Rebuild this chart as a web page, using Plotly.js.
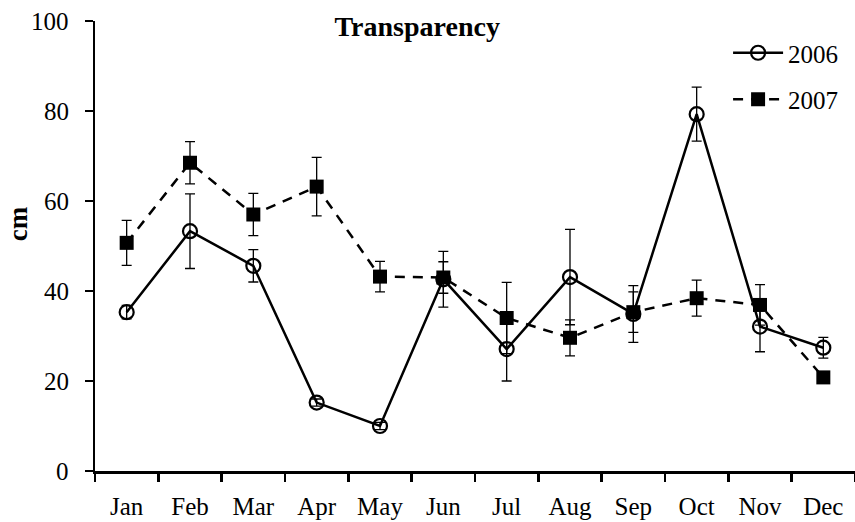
<!DOCTYPE html>
<html>
<head>
<meta charset="utf-8">
<script src="https://cdn.plot.ly/plotly-3.0.1.min.js"></script>
<style>html,body{margin:0;padding:0;background:#fff;}#chart{width:855px;height:522px;}</style>
</head>
<body>
<div id="chart"></div>
<script>
const months = ["Jan","Feb","Mar","Apr","May","Jun","Jul","Aug","Sep","Oct","Nov","Dec"];
const y2006 = [35.3, 53.3, 45.6, 15.2, 10.0, 42.6, 27.1, 43.1, 34.9, 79.3, 32.1, 27.4];
const err2006 = [1.5, 8.3, 3.6, 0.8, 0.8, 6.2, 7.1, 10.6, 6.3, 6.0, 5.6, 2.3];
const y2007 = [50.7, 68.5, 57.0, 63.2, 43.2, 43.0, 34.0, 29.6, 35.3, 38.4, 36.9, 20.8];
const err2007 = [5.0, 4.7, 4.7, 6.5, 3.4, 3.5, 7.9, 4.0, 4.5, 4.0, 4.5, 0];
const yTicks = [0, 20, 40, 60, 80, 100];

const FONT = "Liberation Serif";

const traces = [
  {
    x: months, y: y2006, name: "2006", type: "scatter", mode: "lines+markers",
    legendgroup: "a",
    line: {color: "#000", width: 2.5},
    marker: {symbol: "circle-open", size: 14, color: "#000", line: {width: 2.2, color: "#000"}},
    error_y: {type: "data", array: err2006, visible: true, color: "#000", thickness: 1.3, width: 5}
  },
  {
    x: months, y: y2007, name: "2007", type: "scatter", mode: "lines+markers",
    legendgroup: "b",
    line: {color: "#000", width: 2.5, dash: "10px,8px"},
    marker: {symbol: "square", size: 14, color: "#000"},
    error_y: {type: "data", array: err2007, visible: true, color: "#000", thickness: 1.3, width: 5}
  }
];

// y tick labels placed as annotations on the y scale (right edge 24px left of the axis)
const yLabelAnnotations = yTicks.map(v => ({
  text: String(v), xref: "paper", yref: "y",
  x: -24 / 760, y: v, xanchor: "right", yanchor: "middle",
  showarrow: false, font: {family: FONT, size: 25, color: "#000"}
}));

const layout = {
  width: 855, height: 522,
  margin: {l: 95, r: 0, t: 21, b: 51, pad: 0},
  paper_bgcolor: "#fff", plot_bgcolor: "#fff",
  font: {family: FONT, size: 24, color: "#000"},
  showlegend: true,
  title: {
    text: "<b>Transparency</b>",
    font: {family: FONT, size: 28, color: "#000"},
    x: 0.488, xanchor: "center", xref: "container",
    y: 0.95, yanchor: "middle", yref: "container"
  },
  xaxis: {
    type: "category",
    categoryorder: "array", categoryarray: months,
    range: [-0.5, 11.5],
    showline: true, linecolor: "#000", linewidth: 2.5,
    ticks: "outside", tickson: "boundaries", ticklen: 8, tickwidth: 2.5, tickcolor: "#000",
    ticklabelstandoff: 11,
    showgrid: false, zeroline: false,
    tickfont: {family: FONT, size: 25, color: "#000"}
  },
  yaxis: {
    range: [0, 100],
    tickvals: yTicks, showticklabels: false,
    showline: true, linecolor: "#000", linewidth: 2.5,
    ticks: "outside", ticklen: 8, tickwidth: 2.5, tickcolor: "#000",
    showgrid: false, zeroline: false
  },
  legend: {
    x: 0.833, y: 0.98, xanchor: "left", yanchor: "top",
    xref: "paper", yref: "paper",
    bgcolor: "rgba(0,0,0,0)", borderwidth: 0,
    traceorder: "grouped", tracegroupgap: 11, itemwidth: 50,
    font: {family: FONT, size: 25, color: "#000"}
  },
  annotations: [{
    text: "<b>cm</b>", textangle: -90,
    xref: "paper", yref: "paper",
    x: (18 - 95) / 760, y: (470.7 - 224) / 449.7,
    xanchor: "center", yanchor: "middle", showarrow: false,
    font: {family: FONT, size: 27, color: "#000"}
  }].concat(yLabelAnnotations)
};

Plotly.newPlot("chart", traces, layout, {displayModeBar: false, staticPlot: true});
</script>
</body>
</html>
